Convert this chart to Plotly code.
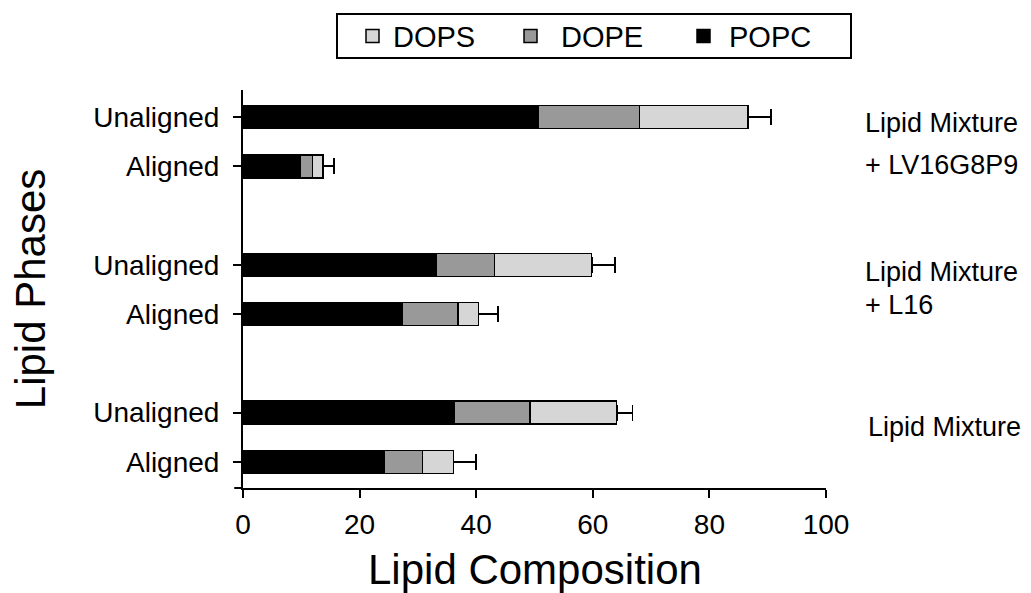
import plotly.graph_objects as go

# Data
groups = ["Lipid Mixture", "Lipid Mixture + L16", "Lipid Mixture + LV16G8P9"]
phases = ["Aligned", "Unaligned"]
# order: for each group (bottom to top), Aligned then Unaligned
popc = [24.2, 36.2, 27.3, 33.1, 9.8, 50.7]
dope = [6.6, 13.0, 9.6, 10.0, 2.1, 17.3]
dops = [5.3, 14.9, 3.5, 16.7, 1.8, 18.6]
err_plus = [3.8, 2.7, 3.4, 4.0, 1.9, 4.0]
series_names = ["DOPS", "DOPE", "POPC"]
group_labels = [["Lipid Mixture"], ["Lipid Mixture", "+ L16"], ["Lipid Mixture", "+ LV16G8P9"]]

FONT = "Liberation Sans, Arial, sans-serif"
colors = {"POPC": "black", "DOPE": "#999999", "DOPS": "#d6d6d6"}

# y positions derived from group/phase index
ypos = []
ylab = []
for gi in range(len(groups)):
    for pi, ph in enumerate(phases):
        ypos.append(gi * 3 + pi)
        ylab.append(ph)

fig = go.Figure()
line = dict(color="black", width=1.5)
fig.add_trace(go.Bar(y=ypos, x=popc, orientation="h", name="POPC",
                     marker=dict(color=colors["POPC"], line=line), width=0.47))
fig.add_trace(go.Bar(y=ypos, x=dope, orientation="h", name="DOPE",
                     marker=dict(color=colors["DOPE"], line=line), width=0.47))
fig.add_trace(go.Bar(y=ypos, x=dops, orientation="h", name="DOPS",
                     marker=dict(color=colors["DOPS"], line=line), width=0.47,
                     error_x=dict(type="data", symmetric=False, array=err_plus,
                                  arrayminus=[0] * len(err_plus),
                                  color="black", thickness=1.8, width=8)))

fig.update_layout(
    barmode="stack",
    width=1031, height=593,
    margin=dict(l=243, r=205, t=90, b=105),
    plot_bgcolor="white", paper_bgcolor="white",
    font=dict(family=FONT, color="black"),
    showlegend=False,
    xaxis=dict(range=[0, 100], tickvals=[0, 20, 40, 60, 80, 100],
               showline=True, linecolor="black", linewidth=2,
               ticks="outside", ticklen=8, tickwidth=2, tickcolor="black",
               tickfont=dict(size=28, family=FONT), showgrid=False, zeroline=False,
               ticklabelstandoff=2),
    yaxis=dict(range=[-0.53, 7.55], tickvals=ypos, ticktext=ylab,
               showline=True, linecolor="black", linewidth=2,
               ticks="outside", ticklen=8, tickwidth=2, tickcolor="black",
               tickfont=dict(size=28, family=FONT), showgrid=False, zeroline=False,
               ticklabelstandoff=8),
)

# extend x axis line to the left a bit (like the original)
fig.add_shape(type="line", xref="paper", yref="paper", x0=-0.015, x1=0, y0=0, y1=0,
              line=dict(color="black", width=2))

# legend box (drawn manually to match the original layout)
W, H = 1031, 593
L, R, T, B = 243, 205, 90, 105
pw, ph_ = W - L - R, H - T - B
def px(x):
    return (x - L) / pw
def py(y):
    return (H - B - y) / ph_

fig.add_shape(type="rect", xref="paper", yref="paper",
              x0=px(337), x1=px(851), y0=py(58), y1=py(14),
              line=dict(color="black", width=2), fillcolor="white")
sw_x = [366, 524, 697]
tx_x = [391, 559, 727]
for name, sx, tx in zip(series_names, sw_x, tx_x):
    fig.add_shape(type="rect", xref="paper", yref="paper",
                  x0=px(sx), x1=px(sx + 13), y0=py(42.5), y1=py(29.5),
                  line=dict(color="black", width=1.5), fillcolor=colors[name])
    fig.add_annotation(text=name, xref="paper", yref="paper", x=px(tx), y=py(37),
                       xanchor="left", yanchor="middle", showarrow=False,
                       font=dict(size=29, family=FONT))

# axis titles
fig.add_annotation(text="Lipid Composition", xref="paper", yref="paper",
                   x=0.5, y=-0.206, xanchor="center", yanchor="middle",
                   showarrow=False, font=dict(size=42, family=FONT))
fig.add_annotation(text="Lipid Phases", xref="paper", yref="paper",
                   x=-0.365, y=0.5, xanchor="center", yanchor="middle",
                   textangle=-90, showarrow=False, font=dict(size=42, family=FONT))

# group labels on the right
label_px_y = [[427], [272, 305], [123, 165]]
label_px_x = [866, 863, 863]
for gi, lines in enumerate(group_labels):
    for li, txt in enumerate(lines):
        fig.add_annotation(text=txt, xref="paper", yref="paper",
                           x=px(label_px_x[gi]), y=py(label_px_y[gi][li]),
                           xanchor="left", yanchor="middle", showarrow=False,
                           font=dict(size=27, family=FONT))

fig.write_html("out.html")
